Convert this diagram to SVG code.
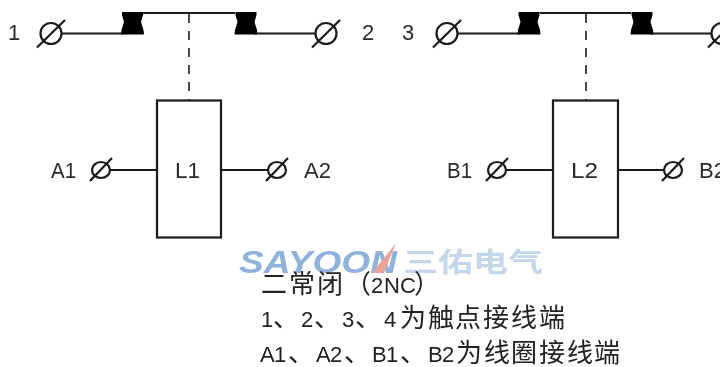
<svg xmlns="http://www.w3.org/2000/svg" width="720" height="367" viewBox="0 0 720 367">
<defs>
<filter id="soft" x="-5%" y="-5%" width="110%" height="110%"><feGaussianBlur stdDeviation="0.5"/></filter>
<g id="term"><ellipse cx="0" cy="0" rx="10.500" ry="10.500" class="ln"/><line x1="-14" y1="14" x2="14" y2="-13.500" class="ln"/></g>
<g id="cterm"><ellipse cx="0" cy="0" rx="9" ry="8" class="ln"/><line x1="-11" y1="11" x2="11" y2="-12" class="ln"/></g>
<path id="cont" d="M-10.500 12H10.500L10.500 15L8.500 22L11 30L11.500 34.500H-11.500L-11 30L-8.500 22L-10.500 15Z" fill="#050505"/>
</defs>
<style>
.ln{fill:none;stroke:#1a1a1a;stroke-width:2.200}
.dash{fill:none;stroke:#333;stroke-width:1.800;stroke-dasharray:9 8}
.t{font-family:"Liberation Sans","Noto Sans CJK SC",sans-serif;font-size:22px;fill:#2a2a2a}
.b{font-family:"Noto Sans CJK SC","Liberation Sans",sans-serif;font-size:26px;fill:#222}
.l{font-family:"Liberation Sans",sans-serif;font-size:22px}
.m{text-anchor:middle}
</style>
<rect width="720" height="367" fill="#fff"/>
<g filter="url(#soft)">
<g id="connectors">
<path class="ln" d="M62 33.500H125M143 13H235M254 33.500H316"/>
<path class="ln" d="M458 33.500H520M540 13H631M650 33.500H712"/>
<path class="dash" d="M189 14V100"/>
<path class="dash" d="M586 14V100"/>
<path class="ln" d="M110 170H157M221 170H268M505 170H553M618 170H664"/>
</g>
<g id="contact-1"><use href="#cont" x="132.500"/><use href="#cont" x="246"/></g>
<g id="contact-2"><use href="#cont" x="529"/><use href="#cont" x="642"/></g>
<g id="t1"><use href="#term" x="51" y="33.500"/><text class="t m" x="14" y="40">1</text></g>
<g id="t2"><use href="#term" x="326" y="33.500"/><text class="t m" x="368" y="40">2</text></g>
<g id="t3"><use href="#term" x="447" y="33.500"/><text class="t m" x="408" y="40">3</text></g>
<g id="t4"><use href="#term" x="722" y="33.500"/></g>
<g id="coil-L1"><rect class="ln" x="157" y="100.500" width="64" height="137"/><text class="t" x="175" y="178" textLength="25" lengthAdjust="spacingAndGlyphs">L1</text></g>
<g id="coil-L2"><rect class="ln" x="553" y="100.500" width="65" height="137"/><text class="t" x="571" y="178" textLength="27" lengthAdjust="spacingAndGlyphs">L2</text></g>
<g id="a1"><use href="#cterm" x="101" y="170"/><text class="t" x="51" y="178" textLength="25" lengthAdjust="spacingAndGlyphs">A1</text></g>
<g id="a2"><use href="#cterm" x="277" y="170"/><text class="t" x="304" y="178" textLength="27" lengthAdjust="spacingAndGlyphs">A2</text></g>
<g id="b1"><use href="#cterm" x="497" y="170"/><text class="t" x="447" y="178" textLength="25" lengthAdjust="spacingAndGlyphs">B1</text></g>
<g id="b2"><use href="#cterm" x="673" y="170"/><text class="t" x="699" y="178" textLength="27" lengthAdjust="spacingAndGlyphs">B2</text></g>
<g id="watermark">
<text x="239" y="273" font-family="Liberation Sans,sans-serif" font-size="31" font-weight="bold" font-style="italic" fill="#8fb2dc" textLength="158" lengthAdjust="spacingAndGlyphs">SAYOON</text>
<path d="M372 273L396 243L384 273Z" fill="#e8a49a"/>
<text x="403" y="272" font-family="Noto Sans CJK SC,sans-serif" font-size="27" font-weight="bold" fill="#c3d6ea" textLength="140" lengthAdjust="spacingAndGlyphs">三佑电气</text>
</g>
<g id="caption">
<text class="b" y="293"><tspan x="261 289 317 345">二常闭（</tspan><tspan class="l" x="371 384 400">2NC</tspan><tspan x="414">）</tspan></text>
<text class="b" y="327"><tspan class="l" x="261">1</tspan><tspan x="273">、</tspan><tspan class="l" x="301">2</tspan><tspan x="314">、</tspan><tspan class="l" x="342">3</tspan><tspan x="355">、</tspan><tspan class="l" x="384">4</tspan><tspan x="400 428 455 483 511 539">为触点接线端</tspan></text>
<text class="b" y="362"><tspan class="l" x="260 274">A1</tspan><tspan x="288">、</tspan><tspan class="l" x="316 330">A2</tspan><tspan x="344">、</tspan><tspan class="l" x="372 386">B1</tspan><tspan x="400">、</tspan><tspan class="l" x="428 442">B2</tspan><tspan x="456 484 511 539 567 594">为线圈接线端</tspan></text>
</g>
</g>
</svg>
